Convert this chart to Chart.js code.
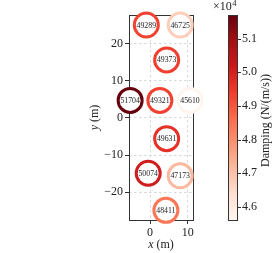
<!DOCTYPE html>
<html><head><meta charset="utf-8">
<script src="https://cdn.jsdelivr.net/npm/chart.js@4.4.0/dist/chart.umd.min.js"></script>
<style>html,body{margin:0;padding:0;background:#fff}#c{display:block}</style>
</head><body>
<canvas id="c" width="275" height="253"></canvas>
<script>
const xs = [-1, 8, 4.4, -5.3, 2.6, 10.6, 4.4, -0.5, 8, 4.2];
const ys = [25, 25, 15.6, 4.7, 4.7, 4.7, -5.6, -14.9, -15.6, -24.9];
const damping = [49289, 46725, 49373, 51704, 49321, 45610, 49631, 50074, 47173, 48411];
const xTicks = [0, 10];
const yTicks = [-20, -10, 0, 10, 20];
const cbTicks = [4.6, 4.7, 4.8, 4.9, 5.0, 5.1];

const REDS = ['#fff5f0','#fee0d2','#fcbba1','#fc9272','#fb6a4a','#ef3b2c','#cb181d','#a50f15','#67000d'];
function hex2rgb(h){return [1,3,5].map(i=>parseInt(h.substr(i,2),16));}
function reds(t){
  t = Math.max(0, Math.min(1, t));
  const p = t*(REDS.length-1), i = Math.min(Math.floor(p), REDS.length-2), f = p-i;
  const a = hex2rgb(REDS[i]), b = hex2rgb(REDS[i+1]);
  return 'rgb(' + a.map((v,k)=>Math.round(v+(b[k]-v)*f)).join(',') + ')';
}
const dMin = Math.min(...damping), dMax = Math.max(...damping);
const colors = damping.map(v => reds((v-dMin)/(dMax-dMin)));
const SERIF = '"Liberation Serif", "DejaVu Serif", serif';
const fmt = v => (v < 0 ? '\u2212' + Math.abs(v) : String(v));

const overlay = {
  id: 'overlay',
  beforeDatasetsDraw(chart){
    const {ctx, chartArea: a} = chart;
    ctx.save();
    ctx.strokeStyle = '#333'; ctx.lineWidth = 1;
    ctx.strokeRect(Math.round(a.left)+0.5, Math.round(a.top)+0.5, Math.round(a.right-a.left), Math.round(a.bottom-a.top));
    ctx.restore();
  },
  afterDatasetsDraw(chart){
    const {ctx} = chart;
    const meta = chart.getDatasetMeta(0);
    ctx.save();
    ctx.font = '7.8px ' + SERIF;
    ctx.fillStyle = '#222'; ctx.textAlign = 'center'; ctx.textBaseline = 'middle';
    meta.data.forEach((p, i) => ctx.fillText(String(damping[i]), p.x, p.y + 0.5));
    ctx.restore();
  },
  afterDraw(chart){
    const {ctx, chartArea: a} = chart;
    ctx.save();
    ctx.fillStyle = '#222'; ctx.textBaseline = 'middle';
    const cx = (a.left + a.right)/2, cy = (a.top + a.bottom)/2;
    function mathLabel(sym, rest, x, y){
      ctx.font = 'italic 12px ' + SERIF; const w1 = ctx.measureText(sym).width;
      ctx.font = '12px ' + SERIF; const w2 = ctx.measureText(rest).width;
      const x0 = x - (w1+w2)/2;
      ctx.textAlign = 'left';
      ctx.font = 'italic 12px ' + SERIF; ctx.fillText(sym, x0, y);
      ctx.font = '12px ' + SERIF; ctx.fillText(rest, x0 + w1, y);
    }
    mathLabel('x', ' (m)', cx, 245);
    ctx.save(); ctx.translate(95, cy); ctx.rotate(-Math.PI/2); mathLabel('y', ' (m)', 0, 0); ctx.restore();
    // colorbar
    const L = 228, R = 237, T = a.top, B = a.bottom;
    const g = ctx.createLinearGradient(0, B, 0, T);
    REDS.forEach((c, i) => g.addColorStop(i/(REDS.length-1), c));
    ctx.fillStyle = g; ctx.fillRect(L, T, R-L, B-T);
    ctx.strokeStyle = '#333'; ctx.lineWidth = 1;
    ctx.strokeRect(L+0.5, Math.round(T)+0.5, R-L, Math.round(B-T));
    ctx.font = '12px ' + SERIF; ctx.fillStyle = '#222'; ctx.textAlign = 'left'; ctx.textBaseline = 'middle';
    cbTicks.forEach(t => {
      const y = B - (t*1e4 - dMin)/(dMax - dMin)*(B - T);
      ctx.beginPath(); ctx.moveTo(R+0.5, Math.round(y)+0.5); ctx.lineTo(R+4, Math.round(y)+0.5); ctx.stroke();
      ctx.fillText(t.toFixed(1), 242, y);
    });
    ctx.textBaseline = 'alphabetic';
    ctx.font = '12px ' + SERIF; ctx.fillText('\u00d710', 213, 10);
    const wx = ctx.measureText('\u00d710').width;
    ctx.font = '8.5px ' + SERIF; ctx.fillText('4', 213 + wx + 0.5, 6);
    ctx.save(); ctx.translate(266, (T+B)/2 + 3); ctx.rotate(-Math.PI/2);
    ctx.font = '12px ' + SERIF; ctx.textAlign = 'center'; ctx.textBaseline = 'middle';
    ctx.fillText('Damping (N/(m/s))', 0, 0);
    ctx.restore();
    ctx.restore();
  }
};

new Chart(document.getElementById('c'), {
  type: 'scatter',
  data: { datasets: [{
    data: xs.map((x, i) => ({x, y: ys[i]})),
    pointRadius: 12, pointHoverRadius: 12,
    borderWidth: 3, pointBorderWidth: 3,
    borderColor: colors, pointBorderColor: colors,
    backgroundColor: '#fff', pointBackgroundColor: '#fff',
    clip: false
  }]},
  options: {
    responsive: false, animation: false, events: [],
    layout: { padding: { top: 12, right: 82, left: 0, bottom: 0 } },
    plugins: { legend: { display: false }, tooltip: { enabled: false } },
    scales: {
      x: {
        type: 'linear', min: -5.6, max: 11.4,
        afterBuildTicks: s => { s.ticks = xTicks.map(v => ({value: v})); },
        afterFit: s => { s.height = 33; },
        grid: { color: '#cfcfcf', lineWidth: 0.8, drawTicks: true, tickLength: 4, tickColor: '#333', tickWidth: 1, tickBorderDash: [] },
        border: { display: false, dash: [2.5, 2.5] },
        ticks: { font: { family: SERIF, size: 12 }, color: '#222', padding: 2, maxRotation: 0, callback: v => fmt(v) }
      },
      y: {
        type: 'linear', min: -27.5, max: 27.7,
        afterBuildTicks: s => { s.ticks = yTicks.map(v => ({value: v})); },
        afterFit: s => { s.width = 129; },
        grid: { color: '#cfcfcf', lineWidth: 0.8, drawTicks: true, tickLength: 4, tickColor: '#333', tickWidth: 1, tickBorderDash: [] },
        border: { display: false, dash: [2.5, 2.5] },
        ticks: { font: { family: SERIF, size: 12 }, color: '#222', padding: 2, callback: v => fmt(v) }
      }
    }
  },
  plugins: [overlay]
});
</script>
</body></html>
